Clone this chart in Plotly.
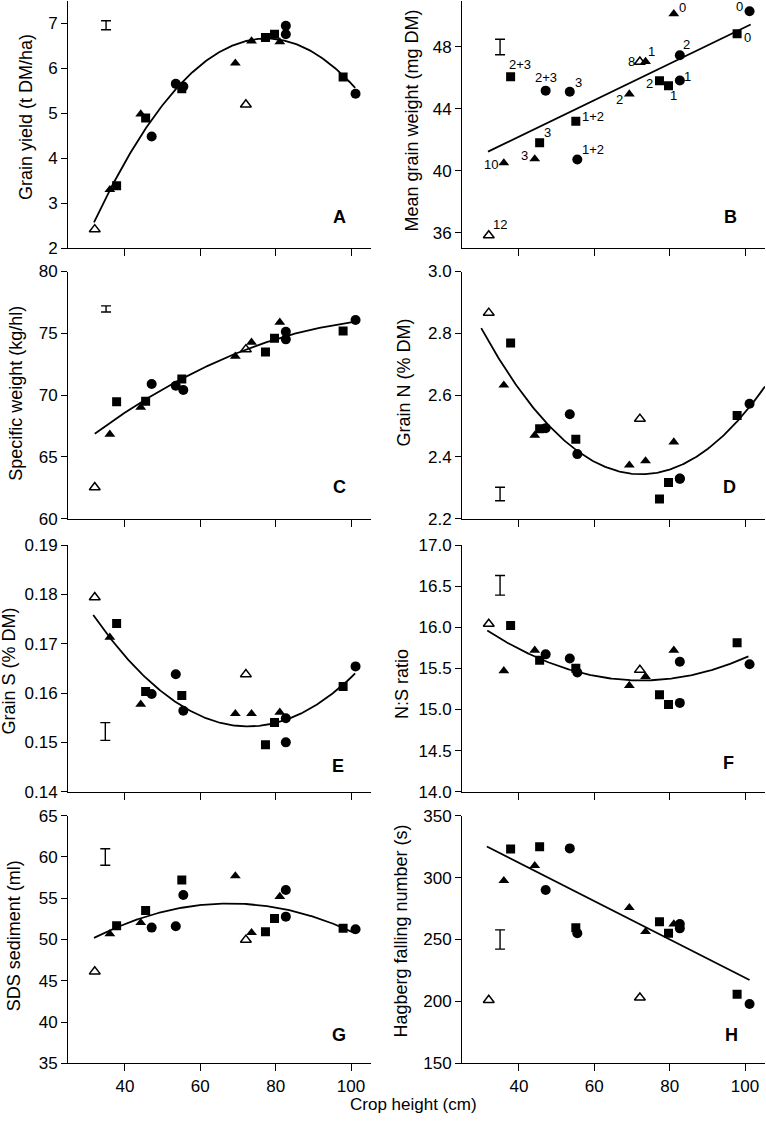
import numpy as np
import plotly.graph_objects as go

# ---------------- data ----------------
# crop height (cm) of each plot, per symbol group
x_open = [32.0, 72.1]                          # open triangles
x_tri = [36.0, 44.2, 69.3, 73.6, 81.1]         # filled triangles
x_sq = [37.8, 45.5, 55.1, 77.3, 79.7, 97.9]    # filled squares
x_circ = [47.1, 53.5, 55.5, 82.7, 82.7, 101.2]  # filled circles

# A  Grain yield (t DM/ha)
A_open = [2.42, 5.19]
A_tri = [3.30, 4.98, 6.11, 6.60, 6.58]
A_sq = [3.39, 4.89, 5.54, 6.68, 6.75, 5.80]
A_circ = [4.48, 5.65, 5.59, 6.94, 6.75, 5.43]
# B  Mean grain weight (mg DM)
B_open = [35.83, 47.04]
B_tri = [40.51, 40.77, 44.96, 47.06, 50.14]
B_sq = [46.08, 41.81, 43.21, 45.82, 45.50, 48.85]
B_circ = [45.18, 45.11, 40.73, 47.46, 45.84, 50.31]
B_lab_open = ["12", "8"]
B_lab_tri = ["10", "3", "2", "1", "0"]
B_lab_sq = ["2+3", "3", "1+2", "2", "1", "0"]
B_lab_circ = ["2+3", "3", "1+2", "2", "1", "0"]
# C  Specific weight (kg/hl)
C_open = [62.54, 73.70]
C_tri = [66.83, 69.01, 73.14, 74.27, 75.89]
C_sq = [69.47, 69.50, 71.30, 73.49, 74.60, 75.19]
C_circ = [70.90, 70.76, 70.41, 75.13, 74.51, 76.08]
# D  Grain N (% DM)
D_open = [2.866, 2.523]
D_tri = [2.632, 2.470, 2.373, 2.387, 2.448]
D_sq = [2.769, 2.491, 2.457, 2.264, 2.317, 2.534]
D_circ = [2.493, 2.538, 2.409, 2.329, 2.330, 2.572]
# E  Grain S (% DM)
E_open = [0.1794, 0.1638]
E_tri = [0.1713, 0.1577, 0.1558, 0.1558, 0.1561]
E_sq = [0.1741, 0.1603, 0.1595, 0.1495, 0.1540, 0.1613]
E_circ = [0.1598, 0.1638, 0.1564, 0.1549, 0.1500, 0.1654]
# F  N:S ratio
F_open = [16.04, 15.48]
F_tri = [15.47, 15.72, 15.29, 15.40, 15.72]
F_sq = [16.02, 15.60, 15.50, 15.18, 15.06, 15.81]
F_circ = [15.67, 15.62, 15.45, 15.58, 15.08, 15.55]
# G  SDS sediment (ml)
G_open = [46.12, 49.95]
G_tri = [50.67, 52.04, 57.70, 50.83, 55.20]
G_sq = [51.68, 53.50, 57.22, 50.95, 52.53, 51.36]
G_circ = [51.44, 51.60, 55.40, 56.00, 52.77, 51.24]
# H  Hagberg falling number (s)
H_open = [201.1, 203.0]
H_tri = [297.5, 309.6, 275.7, 256.3, 262.5]
H_sq = [323.1, 324.9, 259.5, 264.4, 255.0, 205.7]
H_circ = [290.0, 323.6, 255.0, 262.5, 259.0, 197.9]

# LSD bars: x, centre, half length
A_lsd = [35.0, 6.95, 0.10]
B_lsd = [35.0, 48.0, 0.50]
C_lsd = [35.0, 76.97, 0.25]
D_lsd = [35.0, 2.28, 0.022]
E_lsd = [34.8, 0.1522, 0.0018]
F_lsd = [35.0, 16.51, 0.12]
G_lsd = [34.8, 60.0, 1.0]
H_lsd = [35.0, 250.0, 7.8]

# regression order and x extent of the fitted line
fit_order = {"A": 2, "B": 1, "C": 2, "D": 2, "E": 2, "F": 2, "G": 2, "H": 1}
fit_span = {"A": [31.8, 101.1], "B": [31.8, 101.5], "C": [32.0, 101.0],
            "D": [30.0, 105.3], "E": [31.6, 101.1], "F": [31.6, 100.9],
            "G": [31.8, 101.0], "H": [31.5, 101.2]}

y_titles = {"A": "Grain yield (t DM/ha)", "B": "Mean grain weight (mg DM)",
            "C": "Specific weight (kg/hl)", "D": "Grain N (% DM)",
            "E": "Grain S (% DM)", "F": "N:S ratio",
            "G": "SDS sediment (ml)", "H": "Hagberg falling number (s)"}

y_ticks = {"A": ["2", "3", "4", "5", "6", "7"],
           "B": ["36", "40", "44", "48"],
           "C": ["60", "65", "70", "75", "80"],
           "D": ["2.2", "2.4", "2.6", "2.8", "3.0"],
           "E": ["0.14", "0.15", "0.16", "0.17", "0.18", "0.19"],
           "F": ["14.0", "14.5", "15.0", "15.5", "16.0", "16.5", "17.0"],
           "G": ["35", "40", "45", "50", "55", "60", "65"],
           "H": ["150", "200", "250", "300", "350"]}
y_ranges = {"A": [2, 7.5], "B": [35, 51], "C": [60, 80], "D": [2.2, 3.0],
            "E": [0.14, 0.19], "F": [14, 17], "G": [35, 65], "H": [150, 350]}
x_ticks = ["40", "60", "80", "100"]
x_range = [24.9, 105.3]
x_title = "Crop height (cm)"

# ---------------- layout geometry (pixels) ----------------
W, H = 766, 1125
FONT = "Arial, 'Liberation Sans', sans-serif"
col_px = [(68, 371), (462, 765)]
row_px = [(0.5, 248.3), (271.5, 518.7), (545, 791.7), (815.7, 1063.3)]
title_px = {"A": (25.5, 117.5), "B": (411.5, 121), "C": (15.8, 393),
            "D": (403.5, 383), "E": (8.5, 671), "F": (402, 684),
            "G": (14.2, 936), "H": (400.5, 931)}
letter_px = {"A": (339, 216.7), "B": (730.7, 216.7), "C": (339, 486.7),
             "D": (729.7, 486.7), "E": (338.3, 766), "F": (728.7, 763.3),
             "G": (339, 1035), "H": (731.3, 1035)}
# label offsets (px, right / up) for panel B
B_off_open = [(11, 11), (-8, 0)]
B_off_tri = [(-13, -2), (-10, 3), (-10, -5), (6, 10), (9, 6)]
B_off_sq = [(9, 12), (8, 10), (17, 5), (-10, -3), (5, -10), (10, -4)]
B_off_circ = [(0, 13), (9, 9), (16, 10), (7, 11), (8, 4), (-10, 5)]

panels = ["A", "B", "C", "D", "E", "F", "G", "H"]
data = {
    "A": (A_open, A_tri, A_sq, A_circ, A_lsd),
    "B": (B_open, B_tri, B_sq, B_circ, B_lsd),
    "C": (C_open, C_tri, C_sq, C_circ, C_lsd),
    "D": (D_open, D_tri, D_sq, D_circ, D_lsd),
    "E": (E_open, E_tri, E_sq, E_circ, E_lsd),
    "F": (F_open, F_tri, F_sq, F_circ, F_lsd),
    "G": (G_open, G_tri, G_sq, G_circ, G_lsd),
    "H": (H_open, H_tri, H_sq, H_circ, H_lsd),
}

fig = go.Figure()
annotations = []
layout = {}

for i, p in enumerate(panels):
    n = i + 1
    sfx = "" if n == 1 else str(n)
    xa, ya = "x" + sfx, "y" + sfx
    row, col = i // 2, i % 2
    yo, yt, ysq, yc, lsd = data[p]

    # fitted regression (filled symbols only)
    fx = np.array(x_tri + x_sq + x_circ)
    fy = np.array(yt + ysq + yc)
    coef = np.polyfit(fx, fy, fit_order[p])
    xs = np.linspace(fit_span[p][0], fit_span[p][1], 200)
    fig.add_trace(go.Scatter(x=xs, y=np.polyval(coef, xs), mode="lines",
                             line=dict(color="black", width=1.8),
                             xaxis=xa, yaxis=ya, hoverinfo="skip"))
    # LSD bar
    fig.add_trace(go.Scatter(x=[lsd[0]], y=[lsd[1]], mode="markers",
                             marker=dict(size=1, color="rgba(0,0,0,0)"),
                             error_y=dict(type="data", array=[lsd[2]], visible=True,
                                          color="black", thickness=1.4, width=5),
                             xaxis=xa, yaxis=ya, hoverinfo="skip"))
    # symbols
    fig.add_trace(go.Scatter(x=x_open, y=yo, mode="markers",
                             marker=dict(symbol="triangle-up-open", size=9.5, color="black",
                                         line=dict(width=1.5, color="black")),
                             xaxis=xa, yaxis=ya))
    fig.add_trace(go.Scatter(x=x_tri, y=yt, mode="markers",
                             marker=dict(symbol="triangle-up", size=9.5, color="black"),
                             xaxis=xa, yaxis=ya))
    fig.add_trace(go.Scatter(x=x_sq, y=ysq, mode="markers",
                             marker=dict(symbol="square", size=9, color="black"),
                             xaxis=xa, yaxis=ya))
    fig.add_trace(go.Scatter(x=x_circ, y=yc, mode="markers",
                             marker=dict(symbol="circle", size=10, color="black"),
                             xaxis=xa, yaxis=ya))

    ytop, ybot = row_px[row]
    xl, xr = col_px[col]
    tv = [float(t) for t in y_ticks[p]]
    layout["xaxis" + sfx] = dict(
        domain=[xl / W, xr / W], range=x_range, anchor=ya,
        tickvals=[float(t) for t in x_ticks], ticktext=x_ticks,
        showticklabels=(row == 3), ticks="outside", ticklen=7, tickwidth=1,
        tickcolor="black", showline=True, linecolor="black", linewidth=1,
        showgrid=False, zeroline=False, automargin=False,
        tickfont=dict(family=FONT, size=17, color="black"))
    layout["yaxis" + sfx] = dict(
        domain=[1 - ybot / H, 1 - ytop / H], range=y_ranges[p], anchor=xa,
        tickvals=tv, ticktext=y_ticks[p], ticks="outside", ticklen=6, tickwidth=1,
        tickcolor="black", showline=True, linecolor="black", linewidth=1,
        showgrid=False, zeroline=False, automargin=False,
        tickfont=dict(family=FONT, size=17, color="black"))

    tx, ty = title_px[p]
    annotations.append(dict(x=tx / W, y=1 - ty / H, xref="paper", yref="paper",
                            text=y_titles[p], textangle=-90, showarrow=False,
                            xanchor="center", yanchor="middle",
                            font=dict(family=FONT, size=18, color="black")))
    lx, ly = letter_px[p]
    annotations.append(dict(x=lx / W, y=1 - ly / H, xref="paper", yref="paper",
                            text="<b>" + p + "</b>", showarrow=False,
                            xanchor="center", yanchor="middle",
                            font=dict(family=FONT, size=18, color="black")))

# treatment labels in panel B
for xs_, ys_, labs, offs in [(x_open, B_open, B_lab_open, B_off_open),
                             (x_tri, B_tri, B_lab_tri, B_off_tri),
                             (x_sq, B_sq, B_lab_sq, B_off_sq),
                             (x_circ, B_circ, B_lab_circ, B_off_circ)]:
    for xv, yv, lab, (dx, dy) in zip(xs_, ys_, labs, offs):
        annotations.append(dict(x=xv, y=yv, xref="x2", yref="y2", text=lab,
                                showarrow=False, xshift=dx, yshift=dy,
                                xanchor="center", yanchor="middle",
                                font=dict(family=FONT, size=13, color="black")))

annotations.append(dict(x=413 / W, y=1 - 1104 / H, xref="paper", yref="paper",
                        text=x_title, showarrow=False, xanchor="center", yanchor="middle",
                        font=dict(family=FONT, size=17, color="black")))

fig.update_layout(width=W, height=H, margin=dict(l=0, r=0, t=0, b=0),
                  paper_bgcolor="white", plot_bgcolor="white",
                  showlegend=False, hovermode=False,
                  annotations=annotations, **layout)

fig.write_html("out.html", config={"displayModeBar": False},
               post_script="document.body.style.margin='0';"
                           "document.body.style.overflow='hidden';")
